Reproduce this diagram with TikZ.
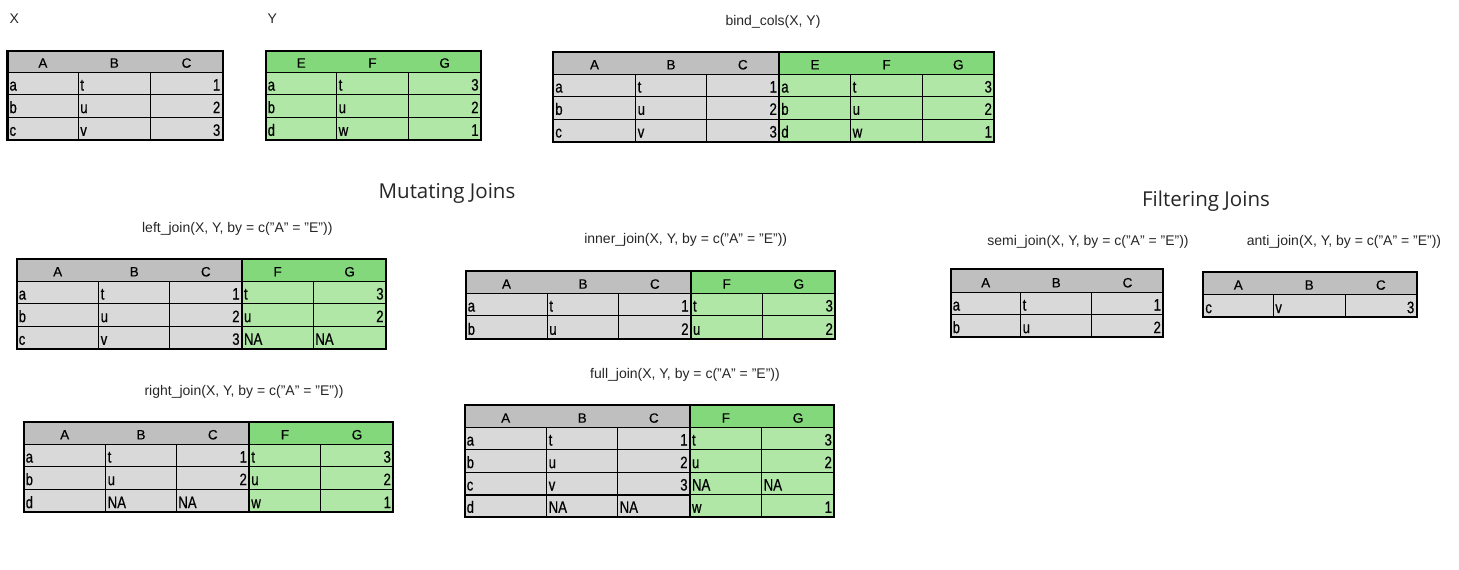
\documentclass[tikz,border=0pt]{standalone}
\usepackage{fontspec}
\setmainfont{Liberation Sans}
\newfontfamily\headfont{Open Sans}
\newfontfamily\cellfont[FakeStretch=0.8,FakeBold=0.5]{Liberation Sans}
\newfontfamily\hdfont[FakeBold=0.3]{Liberation Sans}
\definecolor{hgreyc}{RGB}{191,191,191}
\definecolor{cgreyc}{RGB}{217,217,217}
\definecolor{hgreenc}{RGB}{130,216,122}
\definecolor{cgreenc}{RGB}{176,230,166}
\newcount\cellno
\tikzset{
  thinln/.style={draw=black,line width=1pt},
  thickln/.style={draw=black,line width=2.3pt},
  sepln/.style={draw=black,line width=2.3pt},
  ctext/.style={inner sep=0pt,font=\cellfont\fontsize{16.5}{18}\selectfont,text=black},
  htext/.style={inner sep=0pt,font=\hdfont\fontsize{13.5}{15}\selectfont,text=black},
  lbl/.style={inner sep=0pt,font=\fontsize{14}{16}\selectfont,text=black!85},
  head/.style={inner sep=0pt,font=\headfont\fontsize{20.5}{24}\selectfont,text=black!85},
}
% L R T H B rows cols
\newcommand\tgrid[7]{%
  \draw[thinln] (#1,#4) -- (#2,#4);
  \foreach \yy in {#6} {\draw[thinln] (#1,\yy) -- (#2,\yy);}
  \foreach \xx in {#7} {\draw[thinln] (\xx,#4) -- (\xx,#5);}
  \draw[thickln] (#1,#3) rectangle (#2,#5);
}
\newcommand\cL[3]{\global\advance\cellno by 1
  \node[ctext,anchor=base west] (t\the\cellno) at (#1+1.8,#2-4.2) {#3};}
\newcommand\cR[3]{\global\advance\cellno by 1
  \node[ctext,anchor=base east] (t\the\cellno) at (#1-2.2,#2-4.2) {#3};}
\newcommand\cH[4]{\global\advance\cellno by 1
  \node[htext,anchor=base] (t\the\cellno) at ({(#1+#2)/2},#3-4.6) {#4};}
\begin{document}
\begin{tikzpicture}[x=1pt,y=-1pt]
\useasboundingbox (0,0) rectangle (1459,570);

% ---------------- labels ----------------
\node[lbl,anchor=base west] (lX) at (9.5,23.3) {X};
\node[lbl,anchor=base west] (lY) at (267.5,23.3) {Y};
\node[lbl,anchor=base] (lbind) at (773,25.2) {bind\_cols(X, Y)};
\node[head,anchor=base] (hmut) at (447,198.3) {Mutating Joins};
\node[head,anchor=base] (hfil) at (1206,206.7) {Filtering Joins};
\node[lbl,anchor=base] (lleft) at (237.3,232.8) {left\_join(X, Y, by = c("A" = "E"))};
\node[lbl,anchor=base] (linner) at (685.7,243.8) {inner\_join(X, Y, by = c("A" = "E"))};
\node[lbl,anchor=base] (lright) at (244,395.2) {right\_join(X, Y, by = c("A" = "E"))};
\node[lbl,anchor=base] (lfull) at (685,378.5) {full\_join(X, Y, by = c("A" = "E"))};
\node[lbl,anchor=base] (lsemi) at (1088,245.5) {semi\_join(X, Y, by = c("A" = "E"))};
\node[lbl,anchor=base] (lanti) at (1344,245.5) {anti\_join(X, Y, by = c("A" = "E"))};

% ---------------- X ----------------
\fill[hgreyc] (7.5,50.7) rectangle (222.7,72.3);
\fill[cgreyc] (7.5,72.3) rectangle (222.7,140);
\tgrid{7.5}{222.7}{50.7}{72.3}{140}{94.7,117.3}{78.3,150.3}
\cH{7.5}{78.3}{72.3}{A}\cH{78.3}{150.3}{72.3}{B}\cH{150.3}{222.7}{72.3}{C}
\cL{7.5}{94.7}{a}\cL{78.3}{94.7}{t}\cR{222.7}{94.7}{1}
\cL{7.5}{117.3}{b}\cL{78.3}{117.3}{u}\cR{222.7}{117.3}{2}
\cL{7.5}{140}{c}\cL{78.3}{140}{v}\cR{222.7}{140}{3}

% ---------------- Y ----------------
\fill[hgreenc] (265.7,50.7) rectangle (481,72.3);
\fill[cgreenc] (265.7,72.3) rectangle (481,140);
\tgrid{265.7}{481}{50.7}{72.3}{140}{94.7,117.3}{336.7,408.3}
\cH{265.7}{336.7}{72.3}{E}\cH{336.7}{408.3}{72.3}{F}\cH{408.3}{481}{72.3}{G}
\cL{265.7}{94.7}{a}\cL{336.7}{94.7}{t}\cR{481}{94.7}{3}
\cL{265.7}{117.3}{b}\cL{336.7}{117.3}{u}\cR{481}{117.3}{2}
\cL{265.7}{140}{d}\cL{336.7}{140}{w}\cR{481}{140}{1}

% ---------------- bind_cols ----------------
\fill[hgreyc] (553.3,51.7) rectangle (779.3,74);
\fill[cgreyc] (553.3,74) rectangle (779.3,141.7);
\fill[hgreenc] (779.3,51.7) rectangle (994.3,74);
\fill[cgreenc] (779.3,74) rectangle (994.3,141.7);
\tgrid{553.3}{994.3}{51.7}{74}{141.7}{96.7,119}{635.7,706.3,850.7,922.3}
\draw[sepln] (779.3,51.7) -- (779.3,141.7);
\cH{553.3}{635.7}{74}{A}\cH{635.7}{706.3}{74}{B}\cH{706.3}{779.3}{74}{C}
\cH{779.3}{850.7}{74}{E}\cH{850.7}{922.3}{74}{F}\cH{922.3}{994.3}{74}{G}
\cL{553.3}{96.7}{a}\cL{635.7}{96.7}{t}\cR{779.3}{96.7}{1}\cL{779.3}{96.7}{a}\cL{850.7}{96.7}{t}\cR{994.3}{96.7}{3}
\cL{553.3}{119}{b}\cL{635.7}{119}{u}\cR{779.3}{119}{2}\cL{779.3}{119}{b}\cL{850.7}{119}{u}\cR{994.3}{119}{2}
\cL{553.3}{141.7}{c}\cL{635.7}{141.7}{v}\cR{779.3}{141.7}{3}\cL{779.3}{141.7}{d}\cL{850.7}{141.7}{w}\cR{994.3}{141.7}{1}

% ---------------- left_join ----------------
\fill[hgreyc] (16.7,259) rectangle (242,281);
\fill[cgreyc] (16.7,281) rectangle (242,349);
\fill[hgreenc] (242,259) rectangle (386,281);
\fill[cgreenc] (242,281) rectangle (386,349);
\tgrid{16.7}{386}{259}{281}{349}{303.7,326.3}{98.7,169.7,313.3}
\draw[sepln] (242,259) -- (242,349);
\cH{16.7}{98.7}{281}{A}\cH{98.7}{169.7}{281}{B}\cH{169.7}{242}{281}{C}\cH{242}{313.3}{281}{F}\cH{313.3}{386}{281}{G}
\cL{16.7}{303.7}{a}\cL{98.7}{303.7}{t}\cR{242}{303.7}{1}\cL{242}{303.7}{t}\cR{386}{303.7}{3}
\cL{16.7}{326.3}{b}\cL{98.7}{326.3}{u}\cR{242}{326.3}{2}\cL{242}{326.3}{u}\cR{386}{326.3}{2}
\cL{16.7}{349}{c}\cL{98.7}{349}{v}\cR{242}{349}{3}\cL{242}{349}{NA}\cL{313.3}{349}{NA}

% ---------------- inner_join ----------------
\fill[hgreyc] (465.7,270.7) rectangle (691,293.3);
\fill[cgreyc] (465.7,293.3) rectangle (691,339);
\fill[hgreenc] (691,270.7) rectangle (835.3,293.3);
\fill[cgreenc] (691,293.3) rectangle (835.3,339);
\tgrid{465.7}{835.3}{270.7}{293.3}{339}{315.7}{547.3,618.7,762.3}
\draw[sepln] (691,270.7) -- (691,339);
\cH{465.7}{547.3}{293.3}{A}\cH{547.3}{618.7}{293.3}{B}\cH{618.7}{691}{293.3}{C}\cH{691}{762.3}{293.3}{F}\cH{762.3}{835.3}{293.3}{G}
\cL{465.7}{315.7}{a}\cL{547.3}{315.7}{t}\cR{691}{315.7}{1}\cL{691}{315.7}{t}\cR{835.3}{315.7}{3}
\cL{465.7}{339}{b}\cL{547.3}{339}{u}\cR{691}{339}{2}\cL{691}{339}{u}\cR{835.3}{339}{2}

% ---------------- right_join ----------------
\fill[hgreyc] (23.7,421.7) rectangle (249.3,444);
\fill[cgreyc] (23.7,444) rectangle (249.3,512.3);
\fill[hgreenc] (249.3,421.7) rectangle (393.3,444);
\fill[cgreenc] (249.3,444) rectangle (393.3,512.3);
\tgrid{23.7}{393.3}{421.7}{444}{512.3}{466.7,489.3}{105.7,176.3,320.7}
\draw[sepln] (249.3,421.7) -- (249.3,512.3);
\cH{23.7}{105.7}{444}{A}\cH{105.7}{176.3}{444}{B}\cH{176.3}{249.3}{444}{C}\cH{249.3}{320.7}{444}{F}\cH{320.7}{393.3}{444}{G}
\cL{23.7}{466.7}{a}\cL{105.7}{466.7}{t}\cR{249.3}{466.7}{1}\cL{249.3}{466.7}{t}\cR{393.3}{466.7}{3}
\cL{23.7}{489.3}{b}\cL{105.7}{489.3}{u}\cR{249.3}{489.3}{2}\cL{249.3}{489.3}{u}\cR{393.3}{489.3}{2}
\cL{23.7}{512.3}{d}\cL{105.7}{512.3}{NA}\cL{176.3}{512.3}{NA}\cL{249.3}{512.3}{w}\cR{393.3}{512.3}{1}

% ---------------- full_join ----------------
\fill[hgreyc] (464.7,404.7) rectangle (690,427.3);
\fill[cgreyc] (464.7,427.3) rectangle (690,517);
\fill[hgreenc] (690,404.7) rectangle (834.3,427.3);
\fill[cgreenc] (690,427.3) rectangle (834.3,517);
\tgrid{464.7}{834.3}{404.7}{427.3}{517}{449.7,472.3,494.7}{546.7,617.7,761.7}
\draw[sepln] (690,404.7) -- (690,517);
\draw[thickln] (464.7,494.7) -- (690,494.7);
\cH{464.7}{546.7}{427.3}{A}\cH{546.7}{617.7}{427.3}{B}\cH{617.7}{690}{427.3}{C}\cH{690}{761.7}{427.3}{F}\cH{761.7}{834.3}{427.3}{G}
\cL{464.7}{449.7}{a}\cL{546.7}{449.7}{t}\cR{690}{449.7}{1}\cL{690}{449.7}{t}\cR{834.3}{449.7}{3}
\cL{464.7}{472.3}{b}\cL{546.7}{472.3}{u}\cR{690}{472.3}{2}\cL{690}{472.3}{u}\cR{834.3}{472.3}{2}
\cL{464.7}{494.7}{c}\cL{546.7}{494.7}{v}\cR{690}{494.7}{3}\cL{690}{494.7}{NA}\cL{761.7}{494.7}{NA}
\cL{464.7}{517}{d}\cL{546.7}{517}{NA}\cL{617.7}{517}{NA}\cL{690}{517}{w}\cR{834.3}{517}{1}

% ---------------- semi_join ----------------
\fill[hgreyc] (950.7,269.3) rectangle (1163.3,292);
\fill[cgreyc] (950.7,292) rectangle (1163.3,337.3);
\tgrid{950.7}{1163.3}{269.3}{292}{337.3}{314.7}{1020.7,1091.7}
\cH{950.7}{1020.7}{292}{A}\cH{1020.7}{1091.7}{292}{B}\cH{1091.7}{1163.3}{292}{C}
\cL{950.7}{314.7}{a}\cL{1020.7}{314.7}{t}\cR{1163.3}{314.7}{1}
\cL{950.7}{337.3}{b}\cL{1020.7}{337.3}{u}\cR{1163.3}{337.3}{2}

% ---------------- anti_join ----------------
\fill[hgreyc] (1203.3,271.7) rectangle (1416.7,294.3);
\fill[cgreyc] (1203.3,294.3) rectangle (1416.7,317.3);
\tgrid{1203.3}{1416.7}{271.7}{294.3}{317.3}{294.3}{1273.3,1345}
\cH{1203.3}{1273.3}{294.3}{A}\cH{1273.3}{1345}{294.3}{B}\cH{1345}{1416.7}{294.3}{C}
\cL{1203.3}{317.3}{c}\cL{1273.3}{317.3}{v}\cR{1416.7}{317.3}{3}
\end{tikzpicture}
\end{document}
